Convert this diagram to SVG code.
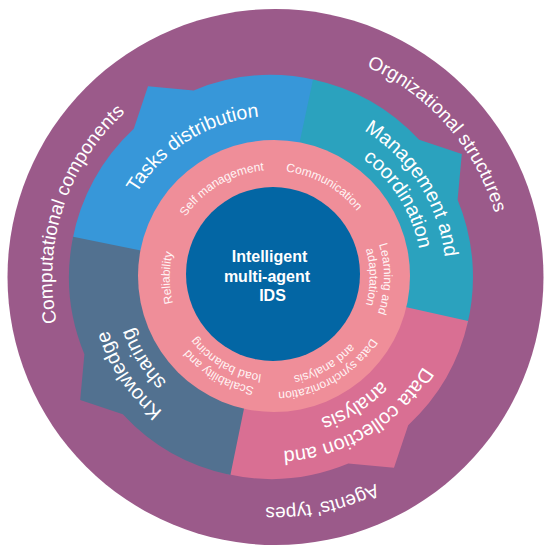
<svg xmlns="http://www.w3.org/2000/svg" width="544" height="547" viewBox="0 0 544 547">
<style>
  text { font-family: "Liberation Sans", Arial, sans-serif; fill: #ffffff; }
  .t-outer { font-size: 19px; }
  .t-seg { font-size: 20px; }
  .t-seg-s { font-size: 19.5px; }
  .t-ring { font-size: 12px; fill: #fff4f5; }
  .t-core { font-size: 16px; font-weight: bold; }
</style>
<defs>
  <path id="p-comp" d="M169.8,473.0 A222,222 0 0 1 304.9,57.2"/>
  <path id="p-org" d="M154.9,80.3 A230,230 0 0 1 453.2,421.1"/>
  <path id="p-agents" d="M503.9,269.0 A230,230 0 0 1 60.7,363.2"/>
  <path id="p-tasks" d="M124.7,337.3 A161,161 0 0 1 393.6,169.3"/>
  <path id="p-mgmt1" d="M208.2,118.1 A172,172 0 0 1 390.2,403.8"/>
  <path id="p-mgmt2" d="M218.6,139.8 A148,148 0 0 1 373.0,387.0"/>
  <path id="p-data1" d="M436.4,214.6 A174,174 0 0 1 142.7,391.2"/>
  <path id="p-data2" d="M412.1,221.2 A149,149 0 0 1 163.3,376.7"/>
  <path id="p-know1" d="M344.8,436.0 A174,174 0 0 1 153.1,151.8"/>
  <path id="p-know2" d="M330.2,416.1 A150,150 0 0 1 173.6,165.5"/>
  <path id="p-self" d="M173.8,314.5 A107,107 0 0 1 355.4,207.5"/>
  <path id="p-comm" d="M191.6,210.3 A106,106 0 0 1 374.2,311.5"/>
  <path id="p-learn1" d="M295.0,169.0 A110,110 0 0 1 291.2,385.6"/>
  <path id="p-learn2" d="M290.7,182.5 A96,96 0 0 1 290.7,371.5"/>
  <path id="p-sync1" d="M382.1,237.7 A115,115 0 0 1 185.9,350.9"/>
  <path id="p-sync2" d="M368.9,242.5 A101,101 0 0 1 196.6,341.9"/>
  <path id="p-scal1" d="M359.8,349.0 A112,112 0 0 1 168.8,238.7"/>
  <path id="p-scal2" d="M349.1,340.0 A98,98 0 0 1 181.9,243.5"/>
  <path id="p-rel" d="M256.8,379.6 A104,104 0 0 1 255.0,174.7"/>
</defs>

<g id="outer-ring">
  <circle cx="275.5" cy="277" r="268" fill="#9b5a8a"/>
  <text class="t-outer"><textPath href="#p-comp" startOffset="50%" text-anchor="middle">Computational components</textPath></text>
  <text class="t-outer"><textPath href="#p-org" startOffset="50%" text-anchor="middle">Orgnizational structures</textPath></text>
  <text class="t-outer"><textPath href="#p-agents" startOffset="50%" text-anchor="middle">Agents' types</textPath></text>
</g>

<g id="seg-tasks">
  <path fill="#3797d9" d="M271,277 L72.4,240.2 A202,202 0 0 1 133.8,128.8 L148.0,86.2 L193.7,90.4 A202,202 0 0 1 316.4,80.2 Z"/>
  <text class="t-seg-s"><textPath href="#p-tasks" startOffset="50%" text-anchor="middle">Tasks distribution</textPath></text>
</g>
<g id="seg-management">
  <path fill="#2ba2be" d="M271,277 L313.0,79.4 A202,202 0 0 1 419.2,139.8 L461.8,154.0 L457.6,199.7 A202,202 0 0 1 467.3,324.5 Z"/>
  <text class="t-seg"><textPath href="#p-mgmt1" startOffset="50%" text-anchor="middle">Management and</textPath></text>
  <text class="t-seg"><textPath href="#p-mgmt2" startOffset="50%" text-anchor="middle">coordination</textPath></text>
</g>
<g id="seg-data">
  <path fill="#d96f93" d="M271,277 L468.1,321.1 A202,202 0 0 1 408.2,425.2 L394.0,467.8 L348.3,463.6 A202,202 0 0 1 226.9,474.1 Z"/>
  <text class="t-seg"><textPath href="#p-data1" startOffset="50%" text-anchor="middle">Data collection and</textPath></text>
  <text class="t-seg"><textPath href="#p-data2" startOffset="50%" text-anchor="middle">analysis</textPath></text>
</g>
<g id="seg-knowledge">
  <path fill="#527190" d="M271,277 L230.4,474.9 A202,202 0 0 1 122.8,414.2 L80.2,400.0 L84.4,354.3 A202,202 0 0 1 73.1,236.7 Z"/>
  <text class="t-seg"><textPath href="#p-know1" startOffset="50%" text-anchor="middle">Knowledge</textPath></text>
  <text class="t-seg"><textPath href="#p-know2" startOffset="50%" text-anchor="middle">sharing</textPath></text>
</g>

<g id="inner-ring">
  <circle cx="274" cy="276" r="136" fill="#ef8e99"/>
  <text class="t-ring"><textPath href="#p-self" startOffset="50%" text-anchor="middle">Self management</textPath></text>
  <text class="t-ring"><textPath href="#p-comm" startOffset="50%" text-anchor="middle">Communication</textPath></text>
  <text class="t-ring"><textPath href="#p-learn1" startOffset="50%" text-anchor="middle">Learning and</textPath></text>
  <text class="t-ring"><textPath href="#p-learn2" startOffset="50%" text-anchor="middle">adaptation</textPath></text>
  <text class="t-ring"><textPath href="#p-sync1" startOffset="50%" text-anchor="middle">Data synchronization</textPath></text>
  <text class="t-ring"><textPath href="#p-sync2" startOffset="50%" text-anchor="middle">and analysis</textPath></text>
  <text class="t-ring"><textPath href="#p-scal1" startOffset="50%" text-anchor="middle">Scalability and</textPath></text>
  <text class="t-ring"><textPath href="#p-scal2" startOffset="50%" text-anchor="middle">load balancing</textPath></text>
  <text class="t-ring"><textPath href="#p-rel" startOffset="50%" text-anchor="middle">Reliability</textPath></text>
</g>

<g id="core">
  <circle cx="273" cy="274" r="87" fill="#0366a4"/>
  <text class="t-core" x="269.5" y="262" text-anchor="middle">Intelligent</text>
  <text class="t-core" x="267" y="282" text-anchor="middle">multi-agent</text>
  <text class="t-core" x="272.5" y="301" text-anchor="middle">IDS</text>
</g>

<g id="connectors"/>
</svg>
